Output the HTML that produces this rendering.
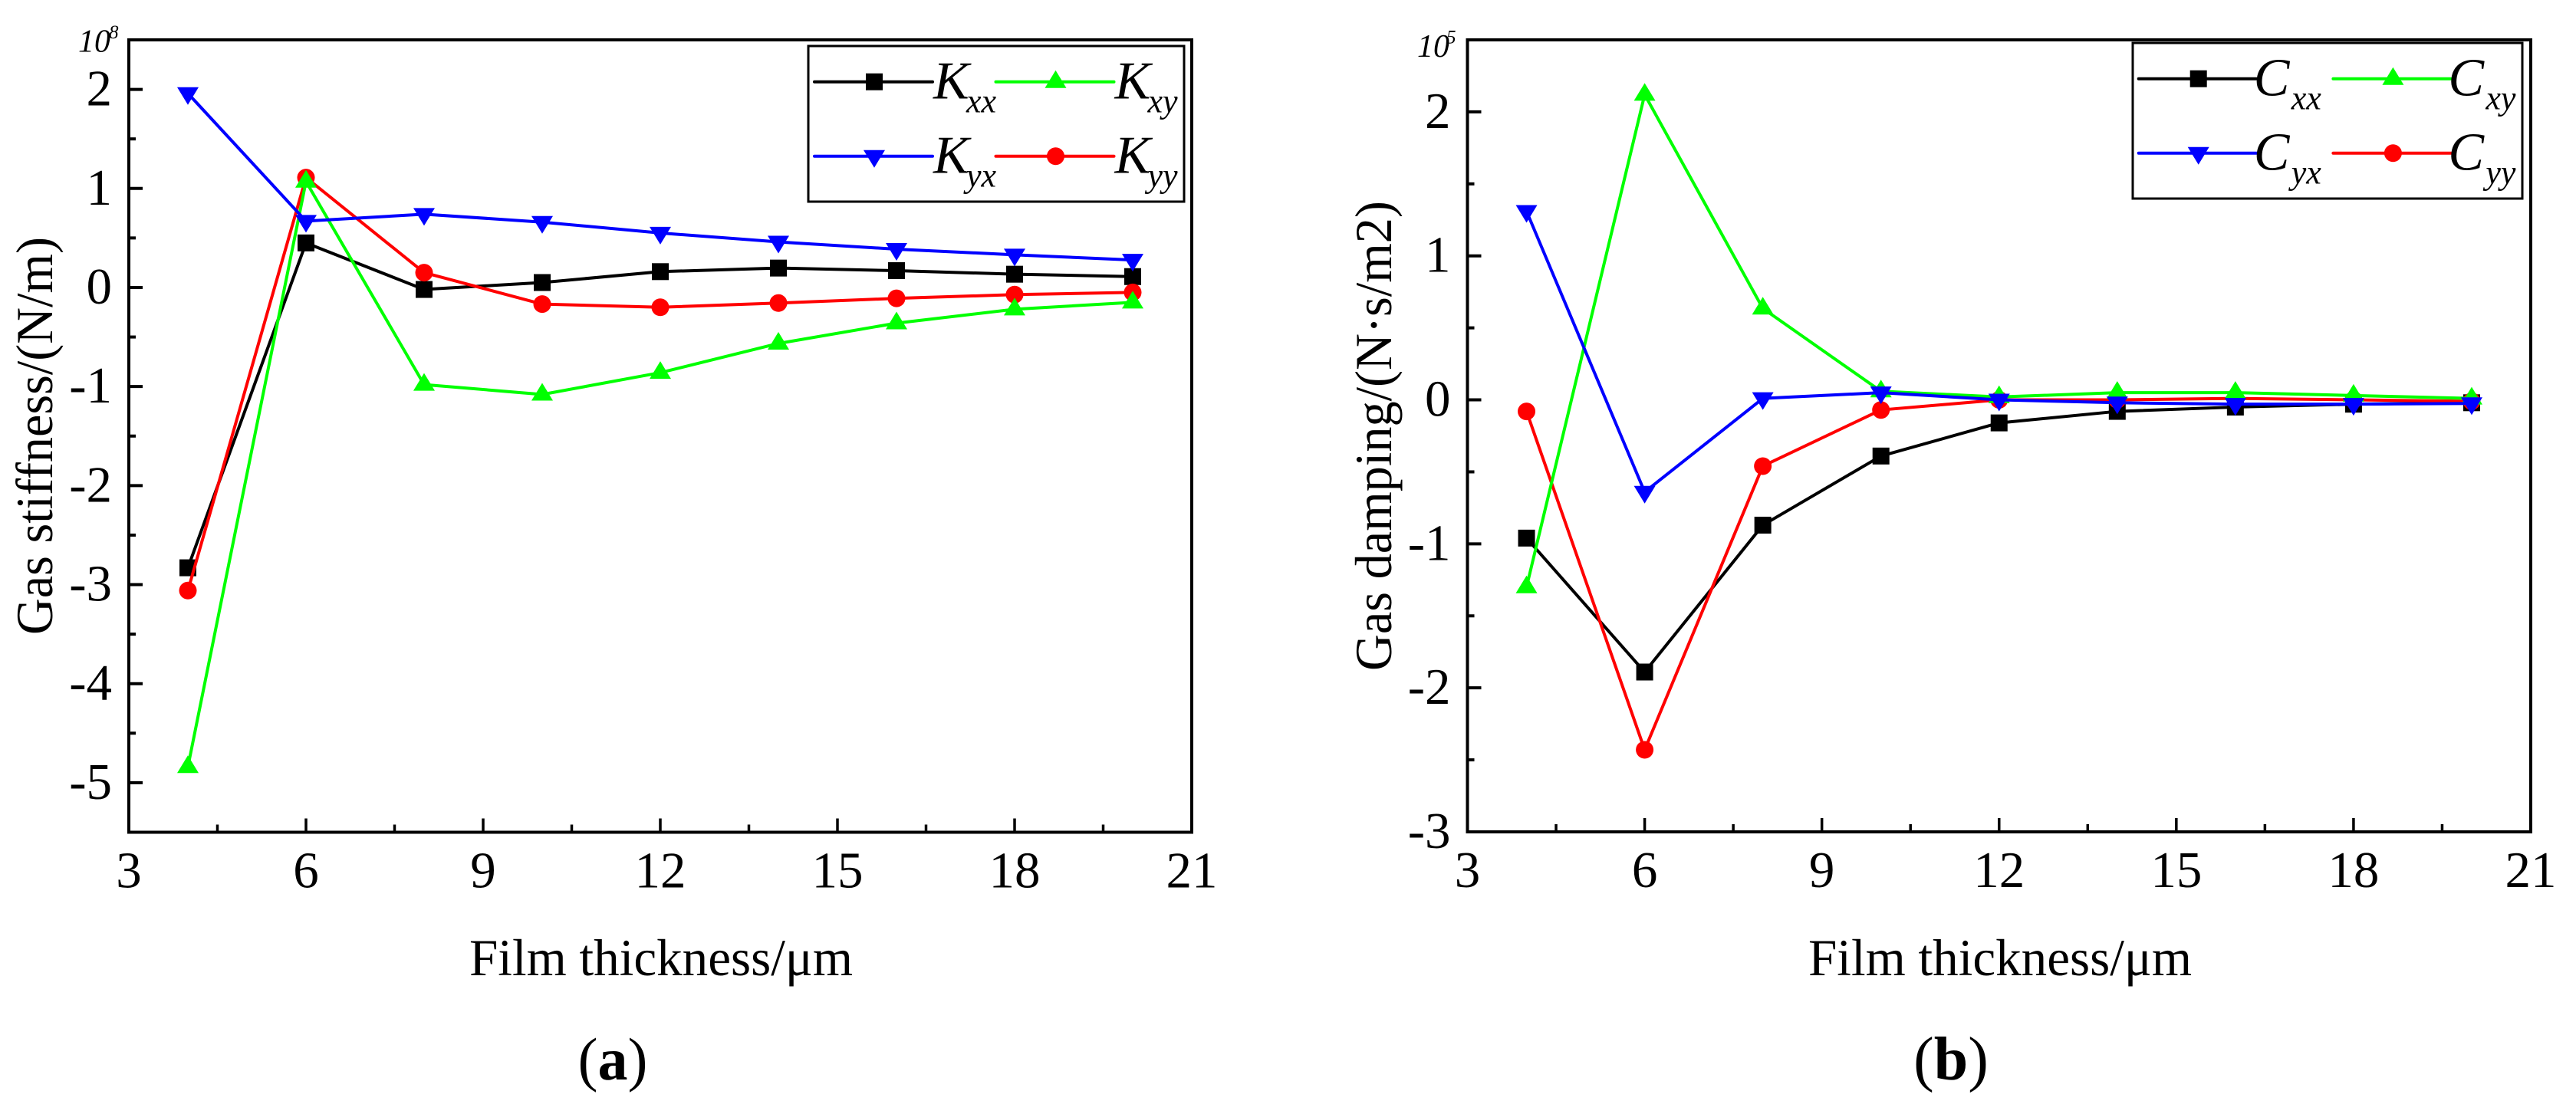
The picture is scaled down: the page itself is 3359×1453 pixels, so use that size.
<!DOCTYPE html>
<html lang="en">
<head>
<meta charset="utf-8">
<title>Gas stiffness and gas damping versus film thickness</title>
<style>
html,body{margin:0;padding:0;background:#fff;}
svg{display:block;font-family:"Liberation Serif",serif;}
</style>
</head>
<body>
<svg id="figure" xmlns="http://www.w3.org/2000/svg" width="3359" height="1453" viewBox="0 0 3359 1453">
  <rect x="0" y="0" width="3359" height="1453" fill="#fff"/>

  <g id="panel-a"></g>
  <text x="68" y="568.5" transform="rotate(-90 68 568.5)" text-anchor="middle" font-size="68" textLength="519" lengthAdjust="spacingAndGlyphs">Gas stiffness/(N/m)</text>
  <text x="862" y="1272" text-anchor="middle" font-size="68" textLength="500" lengthAdjust="spacingAndGlyphs">Film thickness/μm</text>
  <text x="102" y="67.7" font-size="42" font-style="italic">10</text>
  <text x="142" y="50" font-size="25" font-style="italic">8</text>
  <text x="799" y="1408" text-anchor="middle" font-size="78">(<tspan font-weight="bold">a</tspan>)</text>

  <g id="panel-b"></g>
  <text x="1814" y="568.5" transform="rotate(-90 1814 568.5)" text-anchor="middle" font-size="68" textLength="613" lengthAdjust="spacingAndGlyphs">Gas damping/(N·s/m2)</text>
  <text x="2608" y="1272" text-anchor="middle" font-size="68" textLength="500" lengthAdjust="spacingAndGlyphs">Film thickness/μm</text>
  <text x="1848" y="74" font-size="42" font-style="italic">10</text>
  <text x="1886" y="56.7" font-size="25" font-style="italic">5</text>
  <text x="2544" y="1408" text-anchor="middle" font-size="80">(<tspan font-weight="bold">b</tspan>)</text>
</svg>
<script>
// Shared x data
const filmThickness = [4, 6, 8, 10, 12, 14, 16, 18, 20];
const xTickLabels = ['3', '6', '9', '12', '15', '18', '21'];
const xTickValues = [3, 6, 9, 12, 15, 18, 21];
const xMinorTickValues = [4.5, 7.5, 10.5, 13.5, 16.5, 19.5];

// Panel (a): gas stiffness, in units of 10^8 N/m
const kxxValues = [-2.83, 0.45, -0.02, 0.05, 0.16, 0.196, 0.17, 0.134, 0.11];
const kxyValues = [-4.84, 1.07, -0.98, -1.08, -0.86, -0.565, -0.36, -0.22, -0.15];
const kyxValues = [1.96, 0.67, 0.74, 0.66, 0.55, 0.46, 0.387, 0.33, 0.277];
const kyyValues = [-3.06, 1.11, 0.15, -0.168, -0.2, -0.157, -0.11, -0.072, -0.05];
const stiffnessTickValues = [-5, -4, -3, -2, -1, 0, 1, 2];
const stiffnessTickLabels = ['-5', '-4', '-3', '-2', '-1', '0', '1', '2'];
const stiffnessMinorTickValues = [-4.5, -3.5, -2.5, -1.5, -0.5, 0.5, 1.5];

// Panel (b): gas damping, in units of 10^5
const cxxValues = [-0.96, -1.89, -0.87, -0.39, -0.16, -0.08, -0.05, -0.03, -0.02];
const cxyValues = [-1.3, 2.12, 0.635, 0.06, 0.02, 0.05, 0.05, 0.03, 0.01];
const cyxValues = [1.31, -0.64, 0.01, 0.05, 0, -0.02, -0.03, -0.03, -0.025];
const cyyValues = [-0.08, -2.43, -0.46, -0.07, 0, 0, 0.01, 0, -0.01];
const dampingTickValues = [-3, -2, -1, 0, 1, 2];
const dampingTickLabels = ['-3', '-2', '-1', '0', '1', '2'];
const dampingMinorTickValues = [-2.5, -1.5, -0.5, 0.5, 1.5];

const SVG_NS = 'http://www.w3.org/2000/svg';

function make(parent, tag, attrs, text) {
  const el = document.createElementNS(SVG_NS, tag);
  for (const k in attrs) el.setAttribute(k, attrs[k]);
  if (text !== undefined) el.textContent = text;
  parent.appendChild(el);
  return el;
}

function drawMarker(parent, shape, cx, cy, color) {
  let el;
  if (shape === 'square') {
    el = make(parent, 'rect', {x: cx - 11, y: cy - 11, width: 22, height: 22, fill: color});
  } else if (shape === 'circle') {
    el = make(parent, 'ellipse', {cx: cx, cy: cy, rx: 11.5, ry: 11.5, fill: color});
  } else if (shape === 'up') {
    el = make(parent, 'polygon', {points: `${cx},${cy - 15} ${cx + 14},${cy + 8} ${cx - 14},${cy + 8}`, fill: color});
  } else {
    el = make(parent, 'polygon', {points: `${cx},${cy + 15} ${cx + 14},${cy - 8} ${cx - 14},${cy - 8}`, fill: color});
  }
  
  
  return el;
}

function drawPanel(p) {
  const root = document.getElementById(p.id);
  const xScale = v => p.left + (v - p.xMin) / (p.xMax - p.xMin) * (p.right - p.left);
  const yScale = v => p.bottom - (v - p.yMin) / (p.yMax - p.yMin) * (p.bottom - p.top);

  // Series, in stacking order
  p.series.forEach(s => {
    const g = make(root, 'g', {});
    
    
    const pts = filmThickness.map((t, i) => xScale(t) + ',' + yScale(s.values[i])).join(' ');
    const line = make(g, 'polyline', {points: pts, fill: 'none', stroke: s.color, 'stroke-width': 4, 'stroke-linejoin': 'round'});
    
    
    filmThickness.forEach((t, i) => drawMarker(g, s.shape, xScale(t), yScale(s.values[i]), s.color));
  });

  // Frame
  const frame = make(root, 'rect', {x: p.left, y: p.top, width: p.right - p.left, height: p.bottom - p.top, fill: 'none', stroke: '#000', 'stroke-width': 4});
  
  

  // X ticks
  xTickValues.forEach((v, i) => {
    const x = xScale(v);
    const tick = make(root, 'line', {x1: x, x2: x, y1: p.bottom, y2: p.bottom - 18, stroke: '#000', 'stroke-width': 3.5});
    
    
    const label = make(root, 'text', {x: x, y: p.bottom + 72, 'text-anchor': 'middle', 'font-size': 67}, xTickLabels[i]);
    
    
  });
  xMinorTickValues.forEach(v => {
    const x = xScale(v);
    const tick = make(root, 'line', {x1: x, x2: x, y1: p.bottom, y2: p.bottom - 10, stroke: '#000', 'stroke-width': 3.5});
    
    
  });

  // Y ticks
  p.yTicks.forEach((v, i) => {
    const y = yScale(v);
    const tick = make(root, 'line', {x1: p.left, x2: p.left + 18, y1: y, y2: y, stroke: '#000', 'stroke-width': 4});
    
    
    const label = make(root, 'text', {x: p.left - 22, y: y + 21, 'text-anchor': 'end', 'font-size': 67}, p.yLabels[i]);
    
    
  });
  p.yMinor.forEach(v => {
    const y = yScale(v);
    const tick = make(root, 'line', {x1: p.left, x2: p.left + 9, y1: y, y2: y, stroke: '#000', 'stroke-width': 4});
    
    
  });

  // Legend
  const L = p.legend;
  const lg = make(root, 'g', {});
  
  
  const box = make(lg, 'rect', {x: L.x, y: L.y, width: L.w, height: L.h, fill: '#fff', stroke: '#000', 'stroke-width': 3});
  
  
  L.entries.forEach(e => {
    const s = p.series.find(q => q.key === e.key);
    const x0 = e.col === 0 ? L.col0 : L.col1;
    const y0 = e.row === 0 ? L.row0 : L.row1;
    const g = make(lg, 'g', {});
    
    
    const sample = make(g, 'line', {x1: x0, x2: x0 + 154, y1: y0, y2: y0, stroke: s.color, 'stroke-width': 4, 'stroke-linecap': 'round'});
    
    
    drawMarker(g, s.shape, x0 + 78, y0, s.color);
    const main = make(g, 'text', {x: x0 + L.textDx, y: y0 + 22, 'font-size': 70, 'font-style': 'italic'}, L.letter);
    
    
    const sub = make(g, 'text', {x: x0 + L.subDx, y: y0 + 40, 'font-size': 44, 'font-style': 'italic'}, e.sub);
    
    
  });
}

const legendEntries = [
  {key: 'xx', sub: 'xx', col: 0, row: 0},
  {key: 'xy', sub: 'xy', col: 1, row: 0},
  {key: 'yx', sub: 'yx', col: 0, row: 1},
  {key: 'yy', sub: 'yy', col: 1, row: 1}
];

drawPanel({
  id: 'panel-a', left: 168, right: 1554, top: 52, bottom: 1085.5,
  xMin: 3, xMax: 21, yMin: -5.5, yMax: 2.5,
  yTicks: stiffnessTickValues, yLabels: stiffnessTickLabels, yMinor: stiffnessMinorTickValues,
  series: [
    {key: 'xx', color: '#000000', shape: 'square', values: kxxValues},
    {key: 'yy', color: '#ff0000', shape: 'circle', values: kyyValues},
    {key: 'xy', color: '#00ff00', shape: 'up', values: kxyValues},
    {key: 'yx', color: '#0000ff', shape: 'down', values: kyxValues}
  ],
  legend: {x: 1054, y: 60, w: 490, h: 203, col0: 1062, col1: 1298.5, row0: 106.7, row1: 203.7, letter: 'K', textDx: 155, subDx: 198, entries: legendEntries}
});

drawPanel({
  id: 'panel-b', left: 1913.5, right: 3300, top: 52, bottom: 1085,
  xMin: 3, xMax: 21, yMin: -3, yMax: 2.5,
  yTicks: dampingTickValues, yLabels: dampingTickLabels, yMinor: dampingMinorTickValues,
  series: [
    {key: 'xx', color: '#000000', shape: 'square', values: cxxValues},
    {key: 'yy', color: '#ff0000', shape: 'circle', values: cyyValues},
    {key: 'xy', color: '#00ff00', shape: 'up', values: cxyValues},
    {key: 'yx', color: '#0000ff', shape: 'down', values: cyxValues}
  ],
  legend: {x: 2781, y: 56, w: 508, h: 203, col0: 2788.7, col1: 3042.4, row0: 102.7, row1: 199.7, letter: 'C', textDx: 150, subDx: 199, entries: legendEntries}
});
</script>
</body>
</html>
